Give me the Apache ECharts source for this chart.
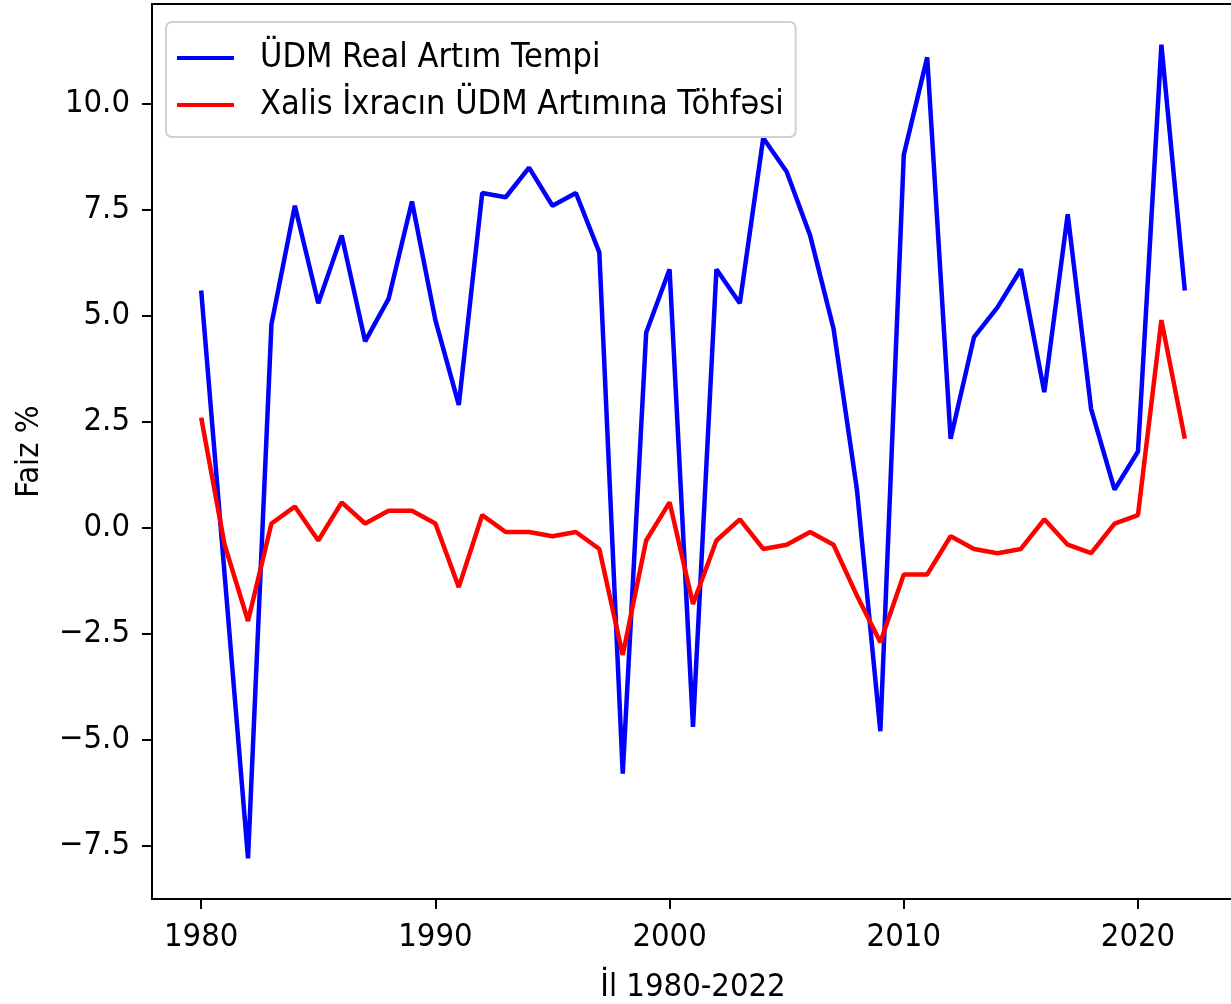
<!DOCTYPE html>
<html>
<head>
<meta charset="utf-8">
<script src="https://cdn.jsdelivr.net/npm/echarts@6/dist/echarts.min.js"></script>
<style>
html,body{margin:0;padding:0;background:#fff;}
#chart{width:1231px;height:1004px;}
</style>
</head>
<body>
<div id="chart"></div>
<script>
// ---- data ----
const years = [1980,1981,1982,1983,1984,1985,1986,1987,1988,1989,1990,1991,1992,1993,1994,1995,1996,1997,1998,1999,2000,2001,2002,2003,2004,2005,2006,2007,2008,2009,2010,2011,2012,2013,2014,2015,2016,2017,2018,2019,2020,2021,2022];
const gdpGrowth = [5.6,-1.1,-7.8,4.8,7.6,5.3,6.9,4.4,5.4,7.7,4.9,2.9,7.9,7.8,8.5,7.6,7.9,6.5,-5.8,4.6,6.1,-4.7,6.1,5.3,9.2,8.4,6.9,4.7,0.9,-4.8,8.8,11.1,2.1,4.5,5.2,6.1,3.2,7.4,2.8,0.9,1.8,11.4,5.6];
const netExportContribution = [2.6,-0.4,-2.2,0.1,0.5,-0.3,0.6,0.1,0.4,0.4,0.1,-1.4,0.3,-0.1,-0.1,-0.2,-0.1,-0.5,-3.0,-0.3,0.6,-1.8,-0.3,0.2,-0.5,-0.4,-0.1,-0.4,-1.6,-2.7,-1.1,-1.1,-0.2,-0.5,-0.6,-0.5,0.2,-0.4,-0.6,0.1,0.3,4.9,2.1];
const seriesNames = ['ÜDM Real Artım Tempi', 'Xalis İxracın ÜDM Artımına Töhfəsi'];
const xTicks = [1980,1990,2000,2010,2020];
const yTicks = [-7.5,-5,-2.5,0,2.5,5,7.5,10];
const xAxisTitle = 'İl 1980-2022';
const yAxisTitle = 'Faiz %';

const pairs = (vals) => years.map((y, i) => [y, vals[i]]);
const FONT = "'DejaVu Sans Condensed', 'DejaVu Sans'";
const FS = 32.5;
const LEGEND_FS = 34;

const chart = echarts.init(document.getElementById('chart'), null, {renderer: 'canvas'});
chart.setOption({
  backgroundColor: '#ffffff',
  animation: false,
  textStyle: {fontFamily: FONT},
  grid: {
    left: 152, top: 4, width: 1082, height: 895,
    containLabel: false, outerBoundsMode: 'none',
    show: true, borderColor: '#000', borderWidth: 2, backgroundColor: 'transparent'
  },
  legend: {
    orient: 'vertical',
    left: 166, top: 22,
    padding: [18, 12, 14, 11],
    icon: 'rect',
    itemWidth: 57, itemHeight: 4, itemGap: 11,
    backgroundColor: 'rgba(255,255,255,0.85)',
    borderColor: '#d0d0d0', borderWidth: 2, borderRadius: 6,
    textStyle: {fontFamily: FONT, fontSize: LEGEND_FS, color: '#000', lineHeight: 36, padding: [0, 0, 0, 21]},
    data: seriesNames
  },
  xAxis: {
    type: 'value',
    min: 1977.9, max: 2024.1,
    name: xAxisTitle, nameLocation: 'middle', nameGap: 72,
    nameTextStyle: {fontFamily: FONT, fontSize: FS, color: '#000'},
    axisLine: {show: true, onZero: false, lineStyle: {color: '#000', width: 2}},
    axisTick: {show: true, length: 10, lineStyle: {color: '#000', width: 2}, customValues: xTicks},
    axisLabel: {fontFamily: FONT, fontSize: FS, color: '#000', margin: 22, customValues: xTicks, formatter: (v) => String(v)},
    splitLine: {show: false}
  },
  yAxis: {
    type: 'value',
    min: -8.76, max: 12.36,
    name: yAxisTitle, nameLocation: 'middle', nameGap: 106, nameRotate: 90,
    nameTextStyle: {fontFamily: FONT, fontSize: FS, color: '#000'},
    axisLine: {show: true, onZero: false, lineStyle: {color: '#000', width: 2}},
    axisTick: {show: true, length: 10, lineStyle: {color: '#000', width: 2}, customValues: yTicks},
    axisLabel: {fontFamily: FONT, fontSize: FS, color: '#000', margin: 22, customValues: yTicks,
      formatter: (v) => Number(v).toFixed(1).replace('-', '\u2212')},
    splitLine: {show: false}
  },
  series: [
    {
      name: seriesNames[0], type: 'line', data: pairs(gdpGrowth),
      symbol: 'none', lineStyle: {color: '#0000ff', width: 4.5}, itemStyle: {color: '#0000ff'}, z: 2
    },
    {
      name: seriesNames[1], type: 'line', data: pairs(netExportContribution),
      symbol: 'none', lineStyle: {color: '#ff0000', width: 4.5}, itemStyle: {color: '#ff0000'}, z: 3
    }
  ]
});
</script>
</body>
</html>
